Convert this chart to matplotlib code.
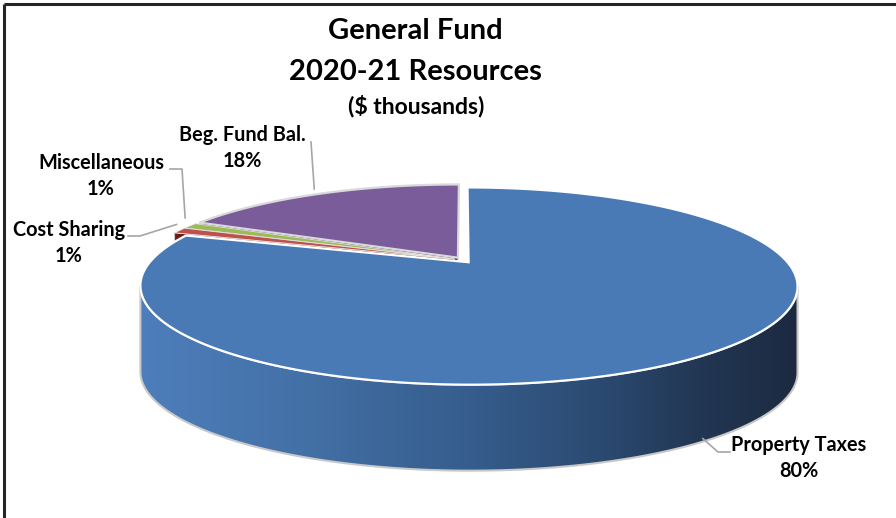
import numpy as np
import matplotlib.pyplot as plt
from matplotlib.patches import Polygon
from matplotlib.colors import LinearSegmentedColormap

plt.rcParams['font.family'] = ['Lato', 'DejaVu Sans']

# data
labels = ["Property Taxes", "Cost Sharing", "Miscellaneous", "Beg. Fund Bal."]
shares = [80, 1, 1, 18]
top_colors = ["#4a7ab5", "#c0504d", "#9bbb59", "#7b5c9b"]
cut_colors = ["#2c4a70", "#6a1c1a", "#5e7a30", "#4e3a66"]
title_lines = ["General Fund", "2020-21 Resources"]
subtitle_text = "($ thousands)"

# pie geometry (pixels), perspective-ish ellipse
CX, CY = 463, 260
R, RY = 317, 91.8
K = 0.24          # perspective factor
DEPTH = 86
EXPLODE = 0.03


def proj(X, Y):
    w = 1 + K * Y
    return CX + R * X / w, CY - RY * Y / w


def slice_pts(t0, t1, mid, n=200):
    ox, oy = EXPLODE * np.cos(np.radians(mid)), EXPLODE * np.sin(np.radians(mid))
    t = np.radians(np.linspace(t0, t1, n))
    x, y = proj(np.cos(t) + ox, np.sin(t) + oy)
    ax_, ay_ = proj(ox, oy)
    return x, y, ax_, ay_


fig = plt.figure(figsize=(8.96, 5.18), dpi=100)
ax = fig.add_axes([0, 0, 1, 1])
ax.axis('off')

# slice angles, clockwise from 12 o'clock
starts, ends = [], []
a = 90.0
for s in shares:
    starts.append(a)
    a -= s * 3.6
    ends.append(a)
mids = [(s + e) / 2 for s, e in zip(starts, ends)]

vis_lo = -180 + np.degrees(np.arcsin(K))
vis_hi = -np.degrees(np.arcsin(K))

side_cmap = LinearSegmentedColormap.from_list(
    "side", [(0, "#4e7ebb"), (0.25, "#4370a6"), (0.5, "#365d8d"),
             (0.7, "#2b4a71"), (0.85, "#223754"), (1, "#1c2a40")])

for i in [3, 2, 1, 0]:
    t0, t1, m = starts[i], ends[i], mids[i]
    x, y, px, py = slice_pts(t0, t1, m)
    # cut faces turned towards the viewer
    for ang, vis in [(t0, np.cos(np.radians(t0)) < -0.01), (t1, np.cos(np.radians(t1)) > 0.01)]:
        if vis:
            ex, ey, _, _ = slice_pts(ang, ang, m, n=1)
            quad = [(px, py), (ex[0], ey[0]), (ex[0], ey[0] + DEPTH), (px, py + DEPTH)]
            ax.add_patch(Polygon(quad, closed=True, fc=cut_colors[i], ec="#d0d0d0", lw=0.6))
    # outer side
    lo, hi = max(t1, vis_lo), min(t0, vis_hi)
    if lo < hi:
        sx, sy, _, _ = slice_pts(hi, lo, m)
        side = np.vstack([np.column_stack([sx, sy]),
                          np.column_stack([sx[::-1], sy[::-1] + DEPTH])])
        patch = Polygon(side, closed=True, fc="none", ec="none")
        ax.add_patch(patch)
        grad = np.linspace(0, 1, 256).reshape(1, -1)
        im = ax.imshow(grad, cmap=side_cmap, aspect='auto',
                       extent=[sx.min(), sx.max(), sy.max() + DEPTH, sy.min()])
        im.set_clip_path(patch)
        ax.add_patch(Polygon(side, closed=True, fc="none", ec="#c8c8c8", lw=1.5))
    top = np.vstack([[px, py], np.column_stack([x, y])])
    if i == 0:
        ec, lw = "white", 1.6
    elif shares[i] < 5:
        ec, lw = "#e6e6e6", 0.6
    else:
        ec, lw = "#d9d9d9", 1.6
    ax.add_patch(Polygon(top, closed=True, fc=top_colors[i], ec=ec, lw=lw))

ax.set_xlim(0, 896)
ax.set_ylim(518, 0)


def rim(i, down=0):
    x, y, _, _ = slice_pts(mids[i], mids[i], mids[i], n=1)
    return x[0], y[0] + down


lead = "#a6a6a6"
lab_kw = dict(ha='center', va='center', fontsize=14.3, fontweight='bold')


def label(i, cx, cy):
    ax.text(cx, cy, labels[i], **lab_kw)
    ax.text(cx, cy + 26, f"{shares[i]}%", **lab_kw)


pt = rim(0, DEPTH - 3)
ax.plot([pt[0], 718, 730], [pt[1], 452, 452], color=lead, lw=1.2)
label(0, 799, 445)

pt = rim(1)
ax.plot([128, 140, pt[0] - 3], [236, 236, pt[1] - 6], color=lead, lw=1.2)
label(1, 69, 230)

pt = rim(2)
ax.plot([170, 182, pt[0] - 5], [169, 169, pt[1] - 8], color=lead, lw=1.2)
label(2, 101, 163)

pt = rim(3)
ax.plot([311, pt[0] - 4], [142, pt[1] - 5], color=lead, lw=1.2)
label(3, 242, 135)

for k, line in enumerate(title_lines):
    ax.text(415, 31 + 41 * k, line, ha='center', va='center', fontsize=21,
            fontweight='bold')
ax.text(416, 106, subtitle_text, ha='center', va='center', fontsize=16.5,
        fontweight='bold')

# frame (only top and left edges visible)
ax.plot([4, 896], [4, 4], color="#262626", lw=2.2, solid_capstyle='butt')
ax.plot([4, 4], [4, 518], color="#262626", lw=2.2, solid_capstyle='butt')

fig.savefig("out.png", dpi=100)
